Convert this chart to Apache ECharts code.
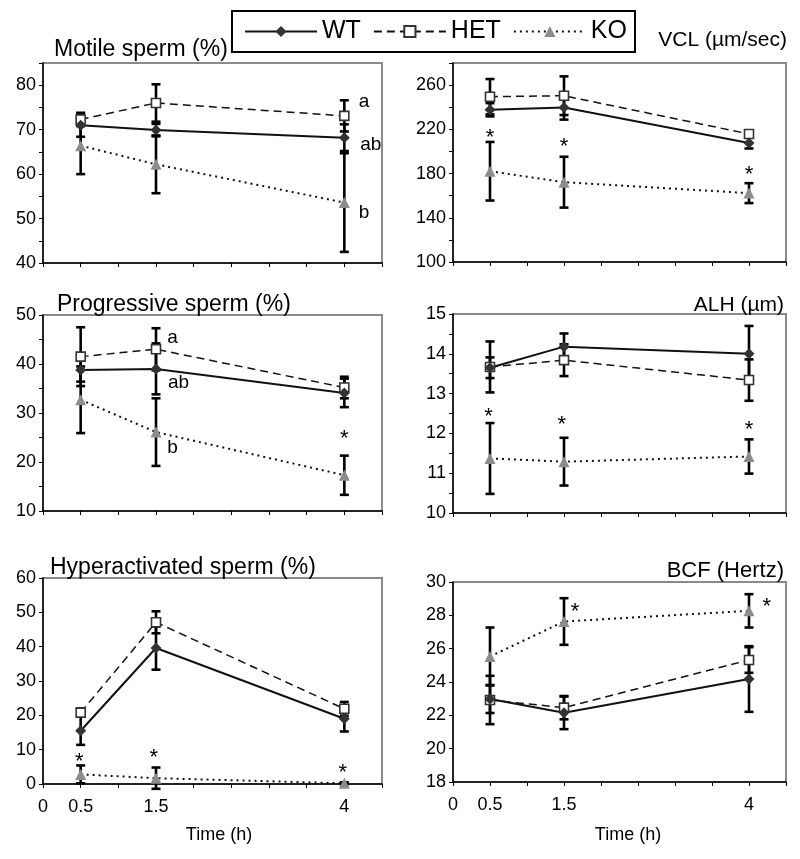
<!DOCTYPE html>
<html>
<head>
<meta charset="utf-8">
<script src="https://cdn.jsdelivr.net/npm/echarts@6/dist/echarts.min.js"></script>
<style>
html,body{margin:0;padding:0;background:#fff;}
#chart{width:800px;height:859px;}
</style>
</head>
<body>
<div id="chart"></div>
<script>
// ---------- Data ----------
const times = [0.5, 1.5, 4];
const xTickLabels = ['0', '0.5', '1.5', '4'];
const groups = ['WT', 'HET', 'KO'];

const motileWT = [71.0, 69.9, 68.2];   const motileWTErr = [2.6, 1.4, 3.0];
const motileHET = [72.3, 76.0, 73.1];  const motileHETErr = [1.5, 4.2, 3.5];
const motileKO = [66.4, 62.2, 53.6];   const motileKOErr = [6.4, 6.5, 11.1];

const vclWT = [237.7, 239.8, 207.7];   const vclWTErr = [6, 11, 5];
const vclHET = [249.5, 250.4, 215.8];  const vclHETErr = [16, 17.5, 3];
const vclKO = [182.1, 172.2, 162.3];   const vclKOErr = [26.5, 23, 9];

const progWT = [38.8, 39.0, 34.1];     const progWTErr = [2.4, 5.2, 2.9];
const progHET = [41.5, 43.0, 35.2];    const progHETErr = [6.0, 4.3, 2.2];
const progKO = [32.7, 26.1, 17.3];     const progKOErr = [6.8, 6.9, 4.0];

const alhWT = [13.65, 14.18, 14.0];    const alhWTErr = [0.26, 0.33, 0.7];
const alhHET = [13.67, 13.84, 13.34];  const alhHETErr = [0.64, 0.4, 0.52];
const alhKO = [11.37, 11.29, 11.42];   const alhKOErr = [0.89, 0.6, 0.43];

const hypWT = [15.5, 39.6, 19.0];      const hypWTErr = [4.1, 6.3, 3.7];
const hypHET = [20.8, 47.1, 21.9];     const hypHETErr = [1.2, 3.2, 2.0];
const hypKO = [2.8, 1.7, 0.2];         const hypKOErr = [2.6, 3.1, 0.3];

const bcfWT = [22.98, 22.15, 24.18];   const bcfWTErr = [0.84, 0.98, 1.97];
const bcfHET = [22.92, 22.46, 25.32];  const bcfHETErr = [1.45, 0.7, 0.77];
const bcfKO = [25.53, 27.63, 28.27];   const bcfKOErr = [1.74, 1.4, 1.0];

// annotations: [x, y, text]
const motileNotes = [[4.26, 76.3, 'a'], [4.35, 66.7, 'ab'], [4.26, 51.4, 'b']];
const vclNotes = [[0.5, 216.7, '*'], [1.5, 208.5, '*'], [4, 183.2, '*']];
const progNotes = [[1.72, 45.3, 'a'], [1.8, 36.1, 'ab'], [1.72, 22.9, 'b'], [4, 25.7, '*']];
const alhNotes = [[0.48, 12.54, '*'], [1.47, 12.34, '*'], [4, 12.21, '*']];
const hypNotes = [[0.48, 7.9, '*'], [1.47, 9.0, '*'], [3.98, 4.7, '*']];
const bcfNotes = [[1.65, 28.5, '*'], [4.24, 28.8, '*']];

const titles = ['Motile sperm (%)', 'VCL (\u00b5m/sec)', 'Progressive sperm (%)', 'ALH (\u00b5m)', 'Hyperactivated sperm (%)', 'BCF (Hertz)'];

// ---------- Layout ----------
const FONT = '"Liberation Sans", Arial, Helvetica, sans-serif';
const panels = [
  {grid:{left:43, top:63, width:339, height:200}, y:[40,85,5,10], wt:[motileWT,motileWTErr], het:[motileHET,motileHETErr], ko:[motileKO,motileKOErr], notes:motileNotes, bottom:false},
  {grid:{left:453, top:63, width:333, height:199}, y:[100,280,20,40], wt:[vclWT,vclWTErr], het:[vclHET,vclHETErr], ko:[vclKO,vclKOErr], notes:vclNotes, bottom:false},
  {grid:{left:43, top:315, width:339, height:196}, y:[10,50,5,10], wt:[progWT,progWTErr], het:[progHET,progHETErr], ko:[progKO,progKOErr], notes:progNotes, bottom:false},
  {grid:{left:453, top:314, width:333, height:199}, y:[10,15,0.5,1], wt:[alhWT,alhWTErr], het:[alhHET,alhHETErr], ko:[alhKO,alhKOErr], notes:alhNotes, bottom:false},
  {grid:{left:43, top:578, width:339, height:206}, y:[0,60,10,10], wt:[hypWT,hypWTErr], het:[hypHET,hypHETErr], ko:[hypKO,hypKOErr], notes:hypNotes, bottom:true},
  {grid:{left:453, top:582, width:333, height:200}, y:[18,30,2,2], wt:[bcfWT,bcfWTErr], het:[bcfHET,bcfHETErr], ko:[bcfKO,bcfKOErr], notes:bcfNotes, bottom:true}
];

const styles = {
  WT:  {line:{color:'#111', width:2, type:'solid'}, symbol:'diamond', size:11, item:{color:'#333', borderColor:'#333', borderWidth:0}},
  HET: {line:{color:'#111', width:1.5, type:[8,5]}, symbol:'rect', size:9, item:{color:'#fff', borderColor:'#333', borderWidth:1.6}},
  KO:  {line:{color:'#111', width:2, type:[2,4]}, symbol:'triangle', size:11, item:{color:'#8c8c8c', borderColor:'#8c8c8c', borderWidth:0}}
};

const grids = [], xAxes = [], yAxes = [], series = [];

function errRender(params, api) {
  const x = api.value(0), y = api.value(1), e = api.value(2);
  const top = api.coord([x, y + e]);
  const bot = api.coord([x, y - e]);
  const hw = 4.5;
  const st = {stroke:'#000', lineWidth:2.6};
  return {type:'group', children:[
    {type:'line', shape:{x1:top[0], y1:top[1], x2:bot[0], y2:bot[1]}, style:st},
    {type:'line', shape:{x1:top[0]-hw, y1:top[1], x2:top[0]+hw, y2:top[1]}, style:st},
    {type:'line', shape:{x1:bot[0]-hw, y1:bot[1], x2:bot[0]+hw, y2:bot[1]}, style:st}
  ]};
}
function noteRender(notes, params, api) {
  const p = api.coord([api.value(0), api.value(1)]);
  const t = notes[params.dataIndex][2];
  const star = t === '*';
  return {type:'text', x:p[0], y:p[1] + (star ? 5 : 0), style:{
    text:t, fill:'#000', font: (star ? '22px ' : '19px ') + FONT,
    align:'center', verticalAlign:'middle'}};
}

panels.forEach((p, i) => {
  grids.push(Object.assign({show:true, borderColor:'#8a8a8a', borderWidth:2, backgroundColor:'#fff'}, p.grid));
  xAxes.push({
    type:'value', gridIndex:i, min:0, max:4.5, interval:0.5,
    axisLine:{show:true, onZero:false, lineStyle:{color:'#000', width:1.5}},
    axisTick:{show:true, length:4, lineStyle:{color:'#000', width:1}},
    splitLine:{show:false},
    axisLabel:{show:p.bottom, margin:14, color:'#000', fontSize:18, fontFamily:FONT,
      formatter: v => { const s = String(v); return xTickLabels.indexOf(s) >= 0 ? s : ''; }}
  });
  const [mn, mx, iv, ls] = p.y;
  yAxes.push({
    type:'value', gridIndex:i, min:mn, max:mx, interval:iv,
    axisLine:{show:true, onZero:false, lineStyle:{color:'#000', width:1.5}},
    axisTick:{show:true, length:4, lineStyle:{color:'#000', width:1}},
    splitLine:{show:false},
    axisLabel:{margin:7, color:'#000', fontSize:18, fontFamily:FONT,
      formatter: v => { const k = (v - mn) / ls; return Math.abs(k - Math.round(k)) < 1e-6 ? String(v) : ''; }}
  });
  const sets = {WT:p.wt, HET:p.het, KO:p.ko};
  groups.forEach(g => {
    const [vals, errs] = sets[g];
    series.push({
      type:'custom', name:g + ' err', xAxisIndex:i, yAxisIndex:i, silent:true, z:2,
      renderItem:errRender, encode:{x:0, y:1},
      data: times.map((t, k) => [t, vals[k], errs[k]])
    });
  });
  ['KO', 'HET', 'WT'].forEach(g => {
    const [vals] = sets[g];
    const s = styles[g];
    series.push({
      type:'line', name:g, xAxisIndex:i, yAxisIndex:i, z:3,
      symbol:s.symbol, symbolSize:s.size, showSymbol:true,
      lineStyle:s.line, itemStyle:s.item, silent:true,
      data: times.map((t, k) => [t, vals[k]])
    });
  });
  const notes = p.notes;
  series.push({
    type:'custom', name:'notes' + i, xAxisIndex:i, yAxisIndex:i, silent:true, z:4,
    renderItem:(params, api) => noteRender(notes, params, api),
    encode:{x:0, y:1},
    data: notes.map(n => [n[0], n[1]])
  });
});

const graphics = [
  {type:'text', left:54, top:38, style:{text:titles[0], font:'23px ' + FONT, fill:'#000'}},
  {type:'text', right:13, top:30, style:{text:titles[1], font:'21px ' + FONT, fill:'#000'}},
  {type:'text', left:57, top:293, style:{text:titles[2], font:'23px ' + FONT, fill:'#000'}},
  {type:'text', right:16, top:295, style:{text:titles[3], font:'21px ' + FONT, fill:'#000'}},
  {type:'text', left:50, top:556, style:{text:titles[4], font:'23px ' + FONT, fill:'#000'}},
  {type:'text', right:16, top:560, style:{text:titles[5], font:'22px ' + FONT, fill:'#000'}},
  {type:'text', x:219, y:835, style:{text:'Time (h)', font:'18px ' + FONT, fill:'#000', align:'center', verticalAlign:'middle'}},
  {type:'text', x:628, y:835, style:{text:'Time (h)', font:'18px ' + FONT, fill:'#000', align:'center', verticalAlign:'middle'}}
];

const chart = echarts.init(document.getElementById('chart'), null, {renderer:'canvas'});
chart.setOption({
  animation:false,
  backgroundColor:'#fff',
  legend:{
    data:groups, left:232, top:11, orient:'horizontal',
    padding:[8, 8, 8, 12], itemGap:12, itemWidth:72, itemHeight:14,
    borderColor:'#000', borderWidth:2, backgroundColor:'#fff',
    selectedMode:false,
    textStyle:{fontSize:25, fontFamily:FONT, color:'#000', padding:[2,0,0,0]}
  },
  grid:grids, xAxis:xAxes, yAxis:yAxes, series:series, graphic:graphics
});
</script>
</body>
</html>
